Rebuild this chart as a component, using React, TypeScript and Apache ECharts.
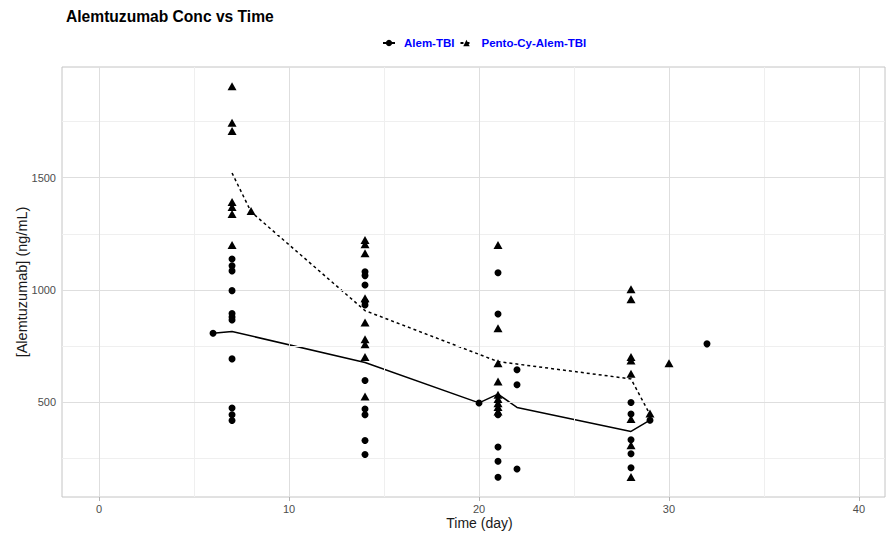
import React, { useEffect, useRef } from "react";
import * as echarts from "echarts";

// Observed concentrations: [time (day), concentration (ng/mL)]
const alemTBIPoints: [number, number][] = [
  [6, 807],
  [7, 1138], [7, 1108], [7, 1085], [7, 997], [7, 895], [7, 880], [7, 866], [7, 693], [7, 474], [7, 444], [7, 419],
  [14, 1081], [14, 1064], [14, 1022], [14, 948], [14, 933], [14, 597], [14, 470], [14, 444], [14, 330], [14, 267],
  [20, 497],
  [21, 1077], [21, 893], [21, 444], [21, 301], [21, 237], [21, 166],
  [22, 645], [22, 578], [22, 203],
  [28, 499], [28, 448], [28, 333], [28, 271], [28, 208],
  [29, 420],
  [32, 760],
];

const pentoPoints: [number, number][] = [
  [7, 1907], [7, 1745], [7, 1708], [7, 1392], [7, 1370], [7, 1338], [7, 1200],
  [8, 1352],
  [14, 1222], [14, 1204], [14, 1163], [14, 963], [14, 855], [14, 780], [14, 758], [14, 701], [14, 526],
  [21, 1200], [21, 830], [21, 674], [21, 592], [21, 533], [21, 514], [21, 496], [21, 479], [21, 459],
  [28, 1003], [28, 959], [28, 701], [28, 686], [28, 627], [28, 425], [28, 308], [28, 167],
  [29, 450],
  [30, 674],
];

// Mean profile lines
const alemLineDays = [6, 7, 14, 20, 21, 22, 28, 29];
const alemLineValues = [807, 815, 677, 497, 536, 477, 370, 420];
const pentoLineDays = [7, 8, 14, 21, 28, 29];
const pentoLineValues = [1521, 1348, 908, 681, 604, 445];

// Axis ticks
const xTicks = [0, 10, 20, 30, 40];
const xMinorTicks = [5, 15, 25, 35];
const yTicks = [500, 1000, 1500];
const yMinorTicks = [250, 750, 1250, 1750];

const FONT = "Liberation Sans, Arial, sans-serif";

export default function App() {
  const ref = useRef<HTMLDivElement>(null);

  useEffect(() => {
    if (!ref.current) return;
    const chart = echarts.init(ref.current, undefined, { renderer: "svg" });

    const majorStyle = { color: "#dedede", width: 1, type: "solid" as const };
    const minorStyle = { color: "#efefef", width: 1, type: "solid" as const };

    const option: any = {
      animation: false,
      backgroundColor: "#ffffff",
      textStyle: { fontFamily: FONT },
      title: {
        text: "Alemtuzumab Conc vs Time",
        left: 66,
        top: 8,
        padding: 0,
        textStyle: { fontSize: 15.6, fontWeight: "bold", color: "#000", fontFamily: FONT },
      },
      legend: {
        data: ["Alem-TBI", "Pento-Cy-Alem-TBI"],
        left: 382,
        top: 37,
        padding: 0,
        itemWidth: 12,
        itemHeight: 8,
        itemGap: 5,
        textStyle: { color: "#0000ff", fontWeight: "bold", fontSize: 11.5, fontFamily: FONT, padding: [0, 0, 0, 4] },
      },
      grid: {
        left: 62,
        right: 2,
        top: 67,
        bottom: 38,
        show: true,
        borderColor: "#c4c4c4",
        borderWidth: 1,
        containLabel: false,
        outerBoundsMode: "none",
      },
      xAxis: {
        type: "value",
        min: -1.95,
        max: 41.37,
        name: "Time (day)",
        nameLocation: "middle",
        nameGap: 19,
        nameMoveOverlap: false,
        nameTextStyle: { fontSize: 14, color: "#1a1a1a", fontFamily: FONT, padding: [0, 0, 0, 12] },
        axisLine: { show: false },
        axisTick: { show: true, length: 4, customValues: xTicks, lineStyle: { color: "#b3b3b3" } },
        axisLabel: {
          customValues: xTicks,
          margin: 6,
          color: "#4d4d4d",
          fontSize: 11,
          fontFamily: FONT,
          formatter: (v: number) => String(v),
        },
        splitLine: { show: false },
        minorSplitLine: { show: false },
      },
      yAxis: {
        type: "value",
        min: 78,
        max: 1993,
        name: "[Alemtuzumab] (ng/mL)",
        nameLocation: "middle",
        nameGap: 33,
        nameMoveOverlap: false,
        nameTextStyle: { fontSize: 14.5, color: "#1a1a1a", fontFamily: FONT },
        axisLine: { show: false },
        axisTick: { show: true, length: 4, customValues: yTicks, lineStyle: { color: "#b3b3b3" } },
        axisLabel: {
          customValues: yTicks,
          margin: 6,
          color: "#4d4d4d",
          fontSize: 11,
          fontFamily: FONT,
          formatter: (v: number) => String(v),
        },
        splitLine: { show: false },
        minorSplitLine: { show: false },
      },
      series: [
        {
          name: "Alem-TBI",
          type: "line",
          z: 4,
          symbol: "circle",
          symbolSize: 7,
          showSymbol: false,
          itemStyle: { color: "#000" },
          lineStyle: { color: "#000", width: 1.5, type: "solid" },
          data: alemLineDays.map((d, i) => [d, alemLineValues[i]]),
        },
        {
          name: "Pento-Cy-Alem-TBI",
          type: "line",
          z: 4,
          symbol: "triangle",
          symbolSize: [9, 8],
          showSymbol: false,
          itemStyle: { color: "#000" },
          lineStyle: { color: "#000", width: 1.5, type: [3, 3] },
          data: pentoLineDays.map((d, i) => [d, pentoLineValues[i]]),
        },
        {
          name: "Alem-TBI",
          type: "scatter",
          z: 5,
          symbol: "circle",
          symbolSize: 7,
          itemStyle: { color: "#000", opacity: 1 },
          data: alemTBIPoints,
        },
        {
          name: "Pento-Cy-Alem-TBI",
          type: "scatter",
          z: 5,
          symbol: "triangle",
          symbolSize: [9, 8],
          itemStyle: { color: "#000", opacity: 1 },
          data: pentoPoints,
        },
        {
          name: "gridlines",
          type: "line",
          z: 1,
          silent: true,
          data: [],
          markLine: {
            silent: true,
            symbol: ["none", "none"],
            label: { show: false },
            emphasis: { disabled: true },
            data: [
              ...xMinorTicks.map((v) => ({ xAxis: v, lineStyle: minorStyle })),
              ...yMinorTicks.map((v) => ({ yAxis: v, lineStyle: minorStyle })),
              ...xTicks.map((v) => ({ xAxis: v, lineStyle: majorStyle })),
              ...yTicks.map((v) => ({ yAxis: v, lineStyle: majorStyle })),
            ],
          },
        },
      ],
    };

    chart.setOption(option);
    return () => chart.dispose();
  }, []);

  return (
    <div
      ref={ref}
      style={{ position: "fixed", left: 0, top: 0, width: 887, height: 535, background: "#fff" }}
    />
  );
}
